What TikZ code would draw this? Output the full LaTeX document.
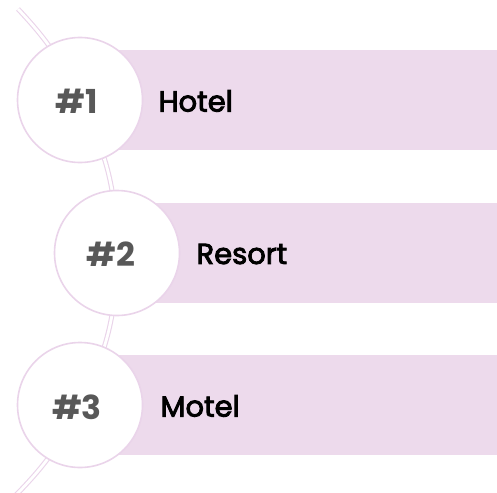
\documentclass[tikz,border=0pt]{standalone}
\usepackage{fontspec}
\setmainfont{Poppins}
\newfontfamily\labelfont{Poppins}[FakeBold=3]
\usetikzlibrary{backgrounds}
\definecolor{barpink}{RGB}{237,218,236}
\definecolor{ringpink}{RGB}{234,212,234}
\definecolor{numgray}{RGB}{88,88,88}

\begin{document}
\begin{tikzpicture}[x=1pt,y=-1pt,
        ring/.style={circle,draw=ringpink,line width=1.6pt,fill=white,minimum size=125pt,inner sep=0pt},
        bar/.style={fill=barpink,minimum height=99pt,anchor=west,inner sep=0pt},
        num/.style={text=numgray,font=\fontsize{33}{33}\selectfont\bfseries},
        title/.style={anchor=west,text=black,font=\fontsize{29}{29}\selectfont\labelfont},
        link/.style={draw=ringpink,line width=1.1pt,double=white,double distance=2.8pt}]
        \useasboundingbox (0,0) rectangle (497,492);
        % bars
        \node[bar,minimum width=387pt] (bar1) at (110,100) {};
        \node[bar,minimum width=347pt] (bar2) at (150,253) {};
        \node[bar,minimum width=387pt] (bar3) at (110,405) {};
        % rings
        \node[ring] (n1) at (80,100) {};
        \node[ring] (n2) at (117,253) {};
        \node[ring] (n3) at (80,405) {};
        \node[num] (k1) at (77,101) {\#1};
        \node[num] (k2) at (111,254) {\#2};
        \node[num] (k3) at (77,407) {\#3};
        \node[title] (t1) at (155,101) {Hotel};
        \node[title] (t2) at (193,254) {Resort};
        \node[title] (t3) at (157,406) {Motel};
        % the line behind the rings
        \coordinate (top) at (18,9);
        \coordinate (bot) at (15,496);
        \begin{scope}[on background layer]
            \fill[barpink] (bar1.north west) rectangle (bar1.south east);
            \fill[barpink] (bar2.north west) rectangle (bar2.south east);
            \fill[barpink] (bar3.north west) rectangle (bar3.south east);
            \draw[link] (top) to[bend left=9] (n1.center) to[bend left=13] (n2.center)
                to[bend left=13] (n3.center) to[bend left=9] (bot);
        \end{scope}
\end{tikzpicture}
\end{document}
